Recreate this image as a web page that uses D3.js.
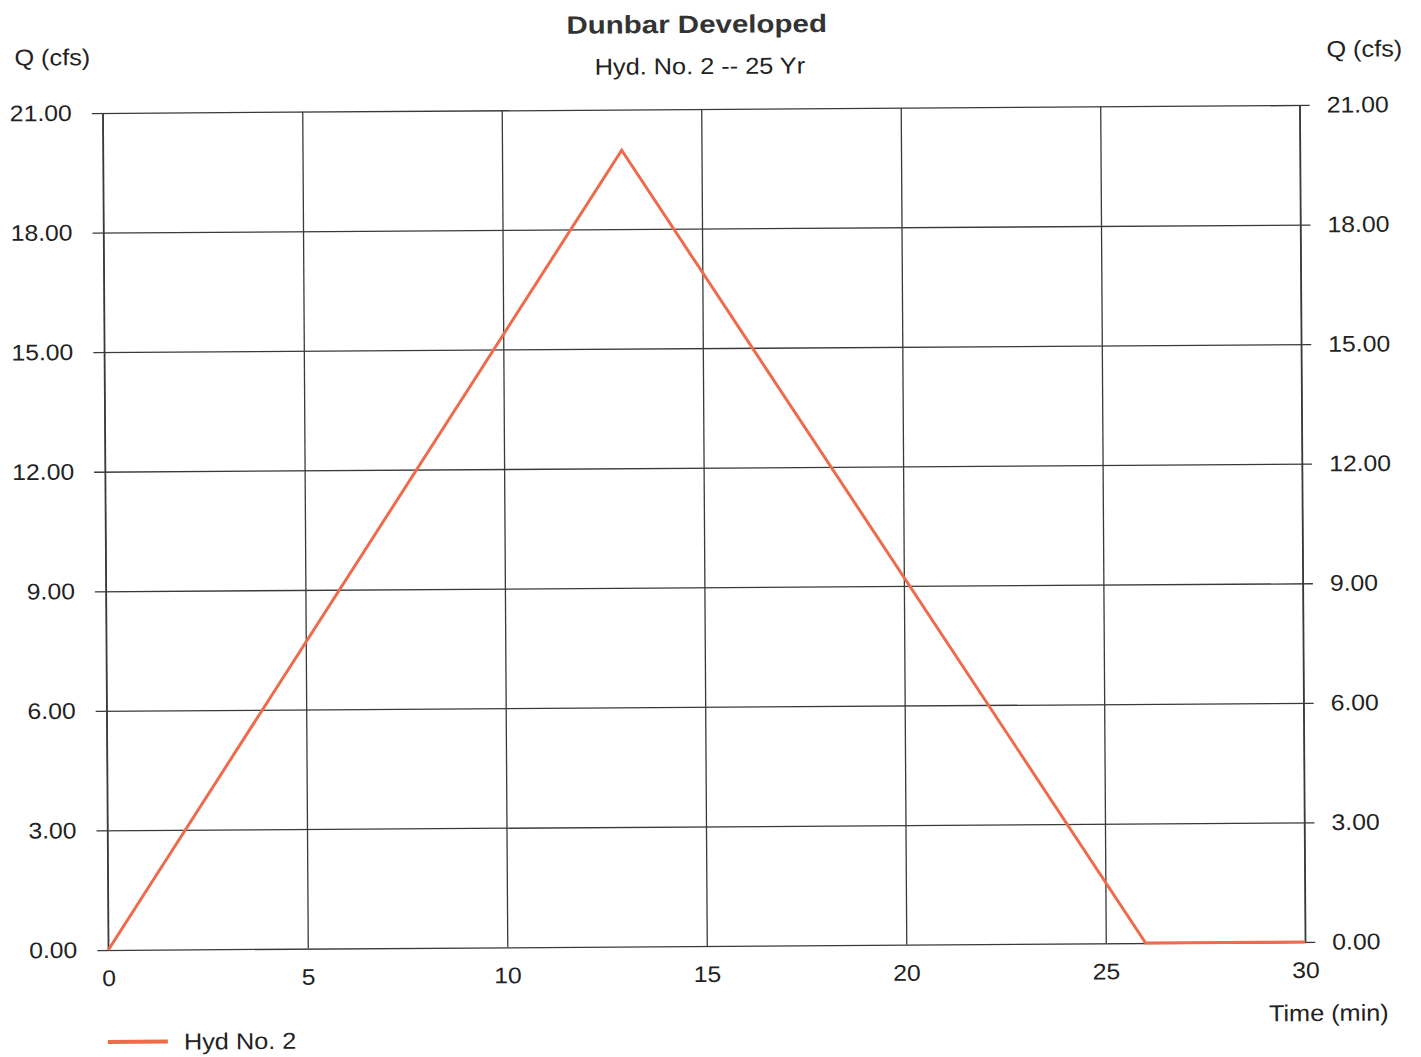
<!DOCTYPE html>
<html>
<head>
<meta charset="utf-8">
<script src="https://cdn.jsdelivr.net/npm/d3@7"></script>
<style>
  body { margin: 0; background: #fff; }
  text { font-family: "Liberation Sans", Arial, sans-serif; fill: #222; }
</style>
</head>
<body>
<svg id="chart" width="1421" height="1057"></svg>
<script>
// hydrograph values
var timeMin = [0, 13, 26, 27, 28, 29, 30];
var flowCfs = [0, 19.98, 0, 0, 0, 0, 0];
var xTicks = [0, 5, 10, 15, 20, 25, 30];
var yTicks = [0, 3, 6, 9, 12, 15, 18, 21];
var titleText = "Dunbar Developed";
var subtitleText = "Hyd. No. 2 -- 25 Yr";
var seriesName = "Hyd No. 2";

document.addEventListener("DOMContentLoaded", function () {

  var L = 105.5, R = 1302.5, T = 109, B = 946;
  var lineColor = "#ee6b4b";
  var gridColor = "#3a3a3a";
  var SX = 1.1; // the scan is a bit wider than tall, so text is stretched sideways

  var svg = d3.select("#chart");
  // the scan is tilted slightly, so the whole drawing is turned a little
  var root = svg.append("g").attr("transform", "rotate(-0.38,703,528)");

  var x = d3.scaleLinear().domain([0, 30]).range([L, R]);
  var y = d3.scaleLinear().domain([0, 21]).range([B, T]);

  // move x/y into a transform so the text can be widened in place
  function stretch(sel, sx) {
    sel.each(function () {
      var t = d3.select(this);
      var tx = +t.attr("x") || 0, ty = +t.attr("y") || 0;
      t.attr("x", 0).attr("y", 0)
        .attr("transform", "translate(" + tx + "," + ty + ") scale(" + sx + ",1)");
    });
  }

  function label(px, py, txt, anchor, size) {
    var t = root.append("text")
      .attr("x", px).attr("y", py).attr("dy", "0.35em")
      .attr("text-anchor", anchor || "start")
      .style("font-size", (size || 22.5) + "px")
      .text(txt);
    stretch(t, SX);
    return t;
  }

  // bottom axis: labels plus vertical gridlines
  var xAxis = d3.axisBottom(x).tickValues(xTicks).tickSize(0).tickPadding(20);
  var gx = root.append("g").attr("transform", "translate(0," + B + ")").call(xAxis);
  gx.select(".domain").remove();
  gx.selectAll(".tick line")
    .attr("y1", 0).attr("y2", T - B)
    .attr("stroke", gridColor).attr("stroke-width", 1.3);
  gx.selectAll(".tick text")
    .style("font-size", "22.5px").attr("fill", "#222")
    .call(stretch, SX);

  // left axis with horizontal gridlines running across
  var yAxisL = d3.axisLeft(y).tickValues(yTicks).tickFormat(d3.format(".2f"))
    .tickSize(11).tickPadding(20);
  var gyl = root.append("g").attr("transform", "translate(" + L + ",0)").call(yAxisL);
  gyl.select(".domain").remove();
  gyl.selectAll(".tick line")
    .attr("x1", R - L + 10).attr("x2", -11)
    .attr("stroke", gridColor).attr("stroke-width", 1.3);
  gyl.selectAll(".tick text")
    .style("font-size", "22.5px").attr("fill", "#222")
    .call(stretch, SX);

  // right axis labels
  var yAxisR = d3.axisRight(y).tickValues(yTicks).tickFormat(d3.format(".2f"))
    .tickSize(0).tickPadding(27);
  var gyr = root.append("g").attr("transform", "translate(" + R + ",0)").call(yAxisR);
  gyr.select(".domain").remove();
  gyr.selectAll(".tick text")
    .style("font-size", "22.5px").attr("fill", "#222")
    .call(stretch, SX);

  // plot frame edges
  root.append("line").attr("x1", L).attr("x2", L).attr("y1", T).attr("y2", B)
    .attr("stroke", gridColor).attr("stroke-width", 1.3);
  root.append("line").attr("x1", R).attr("x2", R).attr("y1", T).attr("y2", B)
    .attr("stroke", gridColor).attr("stroke-width", 1.3);

  // hydrograph
  var pts = timeMin.map(function (t, i) { return [t, flowCfs[i]]; });
  var line = d3.line()
    .x(function (d) { return x(d[0]); })
    .y(function (d) { return y(d[1]); });
  root.append("path")
    .datum(pts)
    .attr("d", line)
    .attr("fill", "none")
    .attr("stroke", lineColor)
    .attr("stroke-width", 3)
    .attr("stroke-linejoin", "miter");

  // titles
  var title = root.append("text")
    .attr("x", 700).attr("y", 24).attr("dy", "0.35em")
    .attr("text-anchor", "middle")
    .style("font-size", "25px").style("font-weight", "bold")
    .style("fill", "#333")
    .text(titleText);
  stretch(title, 1.18);
  label(703, 66, subtitleText, "middle", 23);

  // axis titles
  label(L - 88, T - 56, "Q (cfs)", "start", 23);
  label(R + 27, T - 56, "Q (cfs)", "start", 23);
  label(R + 83, B + 71, "Time (min)", "end", 23);

  // legend
  root.append("line")
    .attr("x1", L - 1).attr("x2", L + 59)
    .attr("y1", B + 92).attr("y2", B + 92)
    .attr("stroke", lineColor).attr("stroke-width", 4);
  label(L + 75, B + 92, seriesName, "start", 23);
});
</script>
</body>
</html>
